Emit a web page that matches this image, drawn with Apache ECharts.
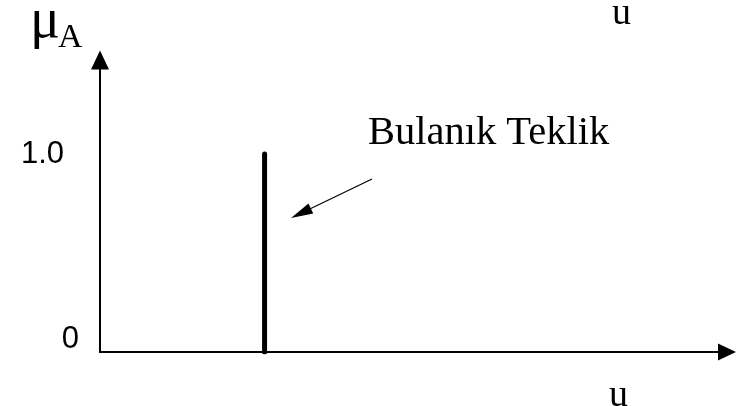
<!DOCTYPE html>
<html>
<head>
<meta charset="utf-8">
<script src="https://cdn.jsdelivr.net/npm/echarts@6/dist/echarts.min.js"></script>
<style>html,body{margin:0;padding:0;background:#fff;}#c{width:748px;height:406px;}</style>
</head>
<body>
<div id="c"></div>
<script>
// ---- data ----
const spikeU = [1, 1];          // position of the fuzzy singleton on u
const spikeMu = [0, 1];         // membership from 0 to 1.0
const yTickValues = [0, 1];
const yTickLabels = ['0', '1.0'];
const annotationText = 'Bulanık Teklik';
const annotationFrom = [1.653, 0.874];
const annotationTo = [1.221, 0.701];
const xMax = 3.81;
const yMax = 1.475;

const chart = echarts.init(document.getElementById('c'), null, {renderer: 'canvas'});
const serif = '"Liberation Serif", "Times New Roman", serif';
const sans = '"Liberation Sans", Arial, sans-serif';

const option = {
  animation: false,
  backgroundColor: '#ffffff',
  grid: {left: 100, right: 21, top: 60, bottom: 54, outerBoundsMode: 'none', containLabel: false},
  xAxis: {
    type: 'value', min: 0, max: xMax,
    axisLine: {show: true, onZero: false, symbol: ['none', 'triangle'], symbolSize: [17, 18],
      lineStyle: {color: '#000', width: 2}},
    axisTick: {show: false}, axisLabel: {show: false}, splitLine: {show: false}
  },
  yAxis: {
    type: 'value', min: 0, max: yMax,
    axisLine: {show: true, onZero: false, symbol: ['none', 'triangle'], symbolSize: [18, 19],
      lineStyle: {color: '#000', width: 2}},
    axisTick: {show: false}, splitLine: {show: false},
    axisLabel: {
      show: true, customValues: yTickValues, margin: 21,
      formatter: function (v) {
        const i = yTickValues.indexOf(v);
        const t = i >= 0 ? yTickLabels[i] : '';
        return v === 0 ? '{b|' + t + '}' : '{a|' + t + '}';
      },
      rich: {
        a: {fontFamily: sans, fontSize: 31, color: '#000', padding: [0, 15, 0, 0]},
        b: {fontFamily: sans, fontSize: 31, color: '#000', padding: [0, 0, 26, 0]}
      }
    }
  },
  series: [{
    type: 'line',
    data: spikeU.map((u, i) => [u, spikeMu[i]]),
    symbol: 'none',
    lineStyle: {color: '#000', width: 5, cap: 'round'},
    silent: true,
    markLine: {
      silent: true, animation: false,
      symbol: ['none', 'triangle'], symbolSize: [11, 22],
      lineStyle: {color: '#000', width: 1.2, type: 'solid'},
      label: {show: false},
      data: [[{coord: annotationFrom}, {coord: annotationTo}]]
    }
  }],
  graphic: [
    {type: 'text', left: 30, top: -6, style: {text: 'μ', font: '56px ' + serif, fill: '#000'}},
    {type: 'text', left: 58, top: 21, style: {text: 'A', font: '34px ' + serif, fill: '#000'}},
    {type: 'text', left: 612, top: -5, style: {text: 'u', font: '38px ' + serif, fill: '#000'}},
    {type: 'text', left: 609, top: 377, style: {text: 'u', font: '38px ' + serif, fill: '#000'}},
    {type: 'text', left: 368, top: 113, style: {text: annotationText, font: '40.5px ' + serif, fill: '#000'}}
  ]
};
chart.setOption(option);
</script>
</body>
</html>
